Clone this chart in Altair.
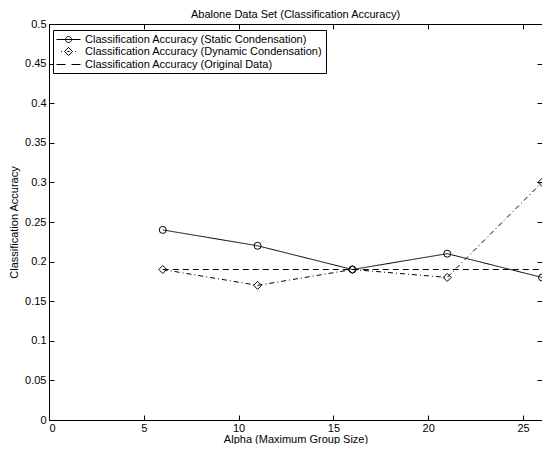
import altair as alt
import pandas as pd

alpha = [6, 11, 16, 21, 26]
static_acc = [0.24, 0.22, 0.19, 0.21, 0.18]
dynamic_acc = [0.19, 0.17, 0.19, 0.18, 0.30]
original_acc = [0.19, 0.19, 0.19, 0.19, 0.19]

names = [
    "Classification Accuracy (Static Condensation)",
    "Classification Accuracy (Dynamic Condensation)",
    "Classification Accuracy (Original Data)",
]

x_ticks = [0, 5, 10, 15, 20, 25]
y_ticks = [0, 0.05, 0.1, 0.15, 0.2, 0.25, 0.3, 0.35, 0.4, 0.45, 0.5]

rows = []
for name, vals in zip(names, [static_acc, dynamic_acc, original_acc]):
    for a, v in zip(alpha, vals):
        rows.append({"alpha": a, "acc": v, "series": name})
df = pd.DataFrame(rows)
pts = df[df["series"] != names[2]]

FONT = "Liberation Sans"
xs = alt.Scale(domain=[0, 26], nice=False, zero=False)
ys = alt.Scale(domain=[0, 0.5], nice=False)

lines = alt.Chart(df).mark_line(color="black", strokeWidth=1).encode(
    x=alt.X("alpha:Q", scale=xs, axis=alt.Axis(
        values=x_ticks, ticks=False, domain=False, grid=False, labelPadding=2,
        title="Alpha (Maximum Group Size)", titlePadding=0, orient="bottom")),
    y=alt.Y("acc:Q", scale=ys, axis=alt.Axis(
        values=y_ticks, format="~g", ticks=False, domain=False, grid=False,
        labelPadding=3, title="Classification Accuracy", titlePadding=5, orient="left")),
    strokeDash=alt.StrokeDash("series:N", scale=alt.Scale(
        domain=names, range=[[1, 0], [5, 3, 1, 3], [6, 4]]), legend=None),
)

points = alt.Chart(pts).mark_point(stroke="black", strokeWidth=1,
                                   opacity=1, filled=False).encode(
    x=alt.X("alpha:Q", scale=xs, axis=alt.Axis(
        values=x_ticks, orient="bottom", domain=False, labels=False, grid=False,
        tickSize=5, tickColor="black", title=None, offset=-5)),
    y=alt.Y("acc:Q", scale=ys, axis=alt.Axis(
        values=y_ticks, orient="left", domain=False, labels=False, grid=False,
        tickSize=5, tickColor="black", title=None, offset=-5)),
    shape=alt.Shape("series:N", scale=alt.Scale(domain=names[:2], range=["circle", "diamond"]),
                    legend=None),
    size=alt.Size("series:N", scale=alt.Scale(domain=names[:2], range=[49, 64]), legend=None),
)

sym_static = "M-1,0L3,0M1.5,0A0.5,0.5,0,1,1,0.5,0A0.5,0.5,0,1,1,1.5,0"
sym_dynamic = "M-0.25,0L-0.1,0M2.1,0L2.25,0M1,-0.67L1.67,0L1,0.67L0.33,0ZM0.8,0L1.2,0"
sym_original = "M-1,0L0.5,0M1.5,0L3,0"

legend_layer = alt.Chart(df).transform_filter("false").mark_point(
    filled=False, color="black", opacity=1, size=144).encode(
    x=alt.X("alpha:Q", scale=xs, axis=alt.Axis(
        values=x_ticks, orient="top", domain=False, labels=False, grid=False,
        tickSize=5, tickColor="black", title=None, offset=-5)),
    y=alt.Y("acc:Q", scale=ys, axis=alt.Axis(
        values=y_ticks, orient="right", domain=False, labels=False, grid=False,
        tickSize=5, tickColor="black", title=None, offset=-5)),
    shape=alt.Shape("series:N", scale=alt.Scale(
        domain=names, range=[sym_static, sym_dynamic, sym_original]),
        legend=alt.Legend(orient="none", legendX=4, legendY=6, title=None,
                          strokeColor="black", fillColor="white", padding=3,
                          labelFontSize=11, labelFont=FONT, labelColor="black",
                          labelLimit=0, labelOffset=16, rowPadding=0,
                          symbolSize=144, symbolStrokeWidth=1,
                          symbolStrokeColor="black", symbolFillColor="transparent",
                          cornerRadius=0)),
)

chart = alt.layer(lines, points, legend_layer).resolve_axis(
    x="independent", y="independent"
).resolve_scale(shape="independent", size="independent").properties(
    width=493, height=396,
    title=alt.TitleParams("Abalone Data Set (Classification Accuracy)", fontSize=11,
                          font=FONT, fontWeight="normal", color="black", offset=0, dy=2),
    autosize=alt.AutoSizeParams(type="none"),
    padding={"left": 41, "top": 16, "right": 0, "bottom": 24},
).configure(font=FONT, background="white").configure_view(
    stroke="black", strokeWidth=1
).configure_axis(
    labelFontSize=11, labelFont=FONT, labelColor="black", titleFontSize=11,
    titleFont=FONT, titleFontWeight="normal", titleColor="black",
)

chart.save("out.html", embed_options={"renderer": "svg", "actions": False})
